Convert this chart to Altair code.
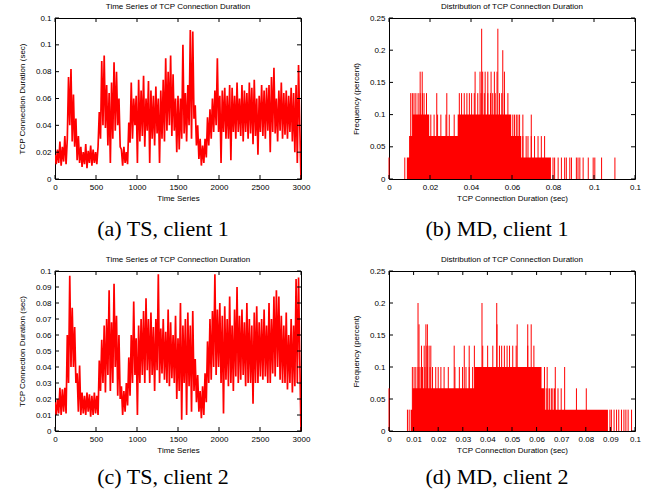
import altair as alt
import pandas as pd

FONT = "Liberation Sans"
SERIF = "Liberation Serif"
RED = "#ff0000"
W, H1, H2 = 246, 161, 160
N_CONN = 3000  # connections per client (frequency = count / N_CONN * 100 percent)

# ---------- time series, one reading every 15 connections ----------
TS_STEP = 15
ts_client1 = [
    0.018, 0.011, 0.022, 0.012, 0.028, 0.010, 0.024, 0.013, 0.032, 0.011,
    0.030, 0.076, 0.040, 0.082, 0.028, 0.063, 0.024, 0.045, 0.014, 0.032,
    0.012, 0.024, 0.009, 0.020, 0.011, 0.026, 0.008, 0.021, 0.012, 0.025,
    0.010, 0.022, 0.012, 0.020, 0.011, 0.024, 0.050, 0.030, 0.088, 0.040,
    0.092, 0.038, 0.070, 0.025, 0.064, 0.012, 0.072, 0.030, 0.087, 0.036,
    0.080, 0.040, 0.060, 0.024, 0.022, 0.010, 0.024, 0.012, 0.020, 0.011,
    0.042, 0.027, 0.072, 0.030, 0.060, 0.040, 0.062, 0.012, 0.074, 0.028,
    0.066, 0.032, 0.077, 0.024, 0.060, 0.036, 0.073, 0.012, 0.066, 0.030,
    0.062, 0.025, 0.069, 0.034, 0.060, 0.012, 0.066, 0.030, 0.074, 0.028,
    0.090, 0.036, 0.080, 0.040, 0.092, 0.032, 0.078, 0.036, 0.060, 0.020,
    0.062, 0.022, 0.060, 0.030, 0.100, 0.034, 0.064, 0.028, 0.070, 0.040,
    0.111, 0.030, 0.110, 0.045, 0.055, 0.025, 0.040, 0.015, 0.030, 0.010,
    0.025, 0.012, 0.030, 0.016, 0.046, 0.025, 0.052, 0.030, 0.060, 0.035,
    0.066, 0.040, 0.090, 0.035, 0.062, 0.012, 0.066, 0.035, 0.068, 0.030,
    0.062, 0.030, 0.070, 0.014, 0.068, 0.035, 0.062, 0.030, 0.072, 0.035,
    0.060, 0.032, 0.070, 0.028, 0.066, 0.035, 0.064, 0.030, 0.072, 0.034,
    0.068, 0.026, 0.074, 0.032, 0.060, 0.018, 0.062, 0.035, 0.070, 0.032,
    0.066, 0.030, 0.068, 0.036, 0.070, 0.020, 0.076, 0.035, 0.083, 0.034,
    0.060, 0.028, 0.066, 0.036, 0.072, 0.030, 0.064, 0.033, 0.066, 0.030,
    0.062, 0.035, 0.068, 0.028, 0.064, 0.020, 0.070, 0.012, 0.085, 0.040,
    0.000,
]
ts_client2 = [
    0.018, 0.010, 0.020, 0.011, 0.027, 0.010, 0.026, 0.012, 0.027, 0.011,
    0.060, 0.030, 0.097, 0.040, 0.077, 0.040, 0.065, 0.030, 0.036, 0.012,
    0.041, 0.010, 0.024, 0.011, 0.022, 0.010, 0.024, 0.012, 0.023, 0.009,
    0.022, 0.010, 0.024, 0.011, 0.022, 0.010, 0.044, 0.025, 0.057, 0.030,
    0.066, 0.024, 0.070, 0.035, 0.088, 0.025, 0.068, 0.030, 0.092, 0.040,
    0.072, 0.022, 0.060, 0.020, 0.028, 0.010, 0.025, 0.012, 0.030, 0.016,
    0.046, 0.022, 0.060, 0.030, 0.081, 0.035, 0.058, 0.010, 0.066, 0.030,
    0.070, 0.035, 0.075, 0.030, 0.083, 0.038, 0.070, 0.030, 0.074, 0.035,
    0.065, 0.025, 0.070, 0.038, 0.098, 0.030, 0.064, 0.036, 0.070, 0.032,
    0.062, 0.030, 0.076, 0.028, 0.068, 0.033, 0.060, 0.030, 0.072, 0.020,
    0.058, 0.025, 0.080, 0.007, 0.066, 0.030, 0.070, 0.010, 0.074, 0.028,
    0.066, 0.012, 0.075, 0.025, 0.045, 0.018, 0.035, 0.012, 0.025, 0.008,
    0.028, 0.010, 0.036, 0.018, 0.056, 0.030, 0.070, 0.032, 0.075, 0.040,
    0.098, 0.035, 0.076, 0.040, 0.080, 0.030, 0.072, 0.011, 0.078, 0.032,
    0.070, 0.028, 0.084, 0.030, 0.066, 0.025, 0.076, 0.034, 0.090, 0.030,
    0.072, 0.032, 0.076, 0.035, 0.068, 0.028, 0.080, 0.030, 0.070, 0.030,
    0.066, 0.017, 0.074, 0.030, 0.078, 0.030, 0.068, 0.034, 0.070, 0.032,
    0.076, 0.034, 0.066, 0.030, 0.080, 0.030, 0.070, 0.036, 0.084, 0.034,
    0.088, 0.040, 0.084, 0.032, 0.072, 0.030, 0.066, 0.030, 0.074, 0.026,
    0.060, 0.030, 0.070, 0.024, 0.066, 0.028, 0.095, 0.030, 0.096, 0.045,
    0.000,
]

# ---------- histograms: solid runs (start, end, count) and single spikes ----------
md1_run_start = [0.0087, 0.0098, 0.0114, 0.0335]
md1_run_end = [0.0790, 0.0645, 0.0196, 0.0596]
md1_run_count = [1, 2, 3, 3]
md1_n1 = [0.0, 0.0077, 0.0800, 0.0808, 0.0825, 0.0841, 0.0857, 0.0865, 0.0882, 0.0890,
          0.0914, 0.0922, 0.0931, 0.0947, 0.0972, 0.0996, 0.1004, 0.1037, 0.1102]
md1_n2 = [0.0653, 0.0669, 0.0678, 0.0694, 0.0710, 0.0727, 0.0743, 0.0759]
md1_n3 = [0.0204, 0.0220, 0.0237, 0.0253, 0.0278, 0.0294, 0.0318, 0.0604, 0.0612,
          0.0621, 0.0629, 0.0637, 0.0653, 0.0694]
md1_n4 = [0.0106, 0.0114, 0.0122, 0.0131, 0.0142, 0.0152, 0.0163, 0.0171, 0.0183,
          0.0233, 0.0282, 0.0343, 0.0354, 0.0367, 0.0380, 0.0392, 0.0403, 0.0416,
          0.0433, 0.0449, 0.0465, 0.0482, 0.0495, 0.0506, 0.0518, 0.0539, 0.0550,
          0.0563, 0.0580]
md1_n5 = [0.0152, 0.0162, 0.0420, 0.0444, 0.0457, 0.0469, 0.0482, 0.0498, 0.0514,
          0.0527, 0.0563]
md1_n6 = [0.0555]
md1_n7 = [0.0452, 0.0531]

md2_run_start = [0.0088, 0.0095, 0.0347]
md2_run_end = [0.0890, 0.0630, 0.0620]
md2_run_count = [1, 2, 3]
md2_n1 = [0.0075, 0.0082, 0.0898, 0.0904, 0.0915, 0.0925, 0.0934, 0.0945, 0.0955,
          0.0963, 0.0972, 0.0986]
md2_n2 = [0.0, 0.0639, 0.0646, 0.0653, 0.0660, 0.0666, 0.0673, 0.0687, 0.0700,
          0.0762, 0.0802]
md2_n3 = [0.0095, 0.0102, 0.0109, 0.0118, 0.0126, 0.0136, 0.0146, 0.0156, 0.0167,
          0.0177, 0.0190, 0.0200, 0.0211, 0.0224, 0.0241, 0.0268, 0.0286, 0.0299,
          0.0313, 0.0326, 0.0340, 0.0632, 0.0643, 0.0676, 0.0714]
md2_n4 = [0.0132, 0.0143, 0.0154, 0.0163, 0.0170, 0.0265, 0.0306, 0.0326, 0.0347,
          0.0381, 0.0401, 0.0422, 0.0449, 0.0458, 0.0469, 0.0480, 0.0490, 0.0503,
          0.0517, 0.0564, 0.0589]
md2_n5 = [0.0122, 0.0150, 0.0156, 0.0439, 0.0521, 0.0564, 0.0578]
md2_n6 = [0.0118, 0.0378, 0.0438]

# ---------- tick labels ----------
ts_x_ticks = [0, 500, 1000, 1500, 2000, 2500, 3000]
ts1_y_ticks = [0, 0.02, 0.04, 0.06, 0.08, 0.1, 0.12]
ts2_y_ticks = [0, 0.01, 0.02, 0.03, 0.04, 0.05, 0.06, 0.07, 0.08, 0.09, 0.1]
md1_x_ticks = [0, 0.02, 0.04, 0.06, 0.08, 0.1, 0.12]
md2_x_ticks = [0, 0.01, 0.02, 0.03, 0.04, 0.05, 0.06, 0.07, 0.08, 0.09, 0.1]
md_y_ticks = [0, 0.05, 0.1, 0.15, 0.2, 0.25]

titles = ["Time Series of TCP Connection Duration", "Distribution of TCP Connection Duration"]
captions = ["(a) TS, client 1", "(b) MD, client 1", "(c) TS, client 2", "(d) MD, client 2"]


def enc(xdom, ydom, xticks, yticks, xtitle, ytitle):
    X = lambda f="x": alt.X(f"{f}:Q", scale=alt.Scale(domain=xdom, nice=False, zero=False),
                            axis=alt.Axis(values=xticks, format="~r", title=xtitle))
    Y = lambda f="y": alt.Y(f"{f}:Q", scale=alt.Scale(domain=ydom, nice=False, zero=False),
                            axis=alt.Axis(values=yticks, format="~r", title=ytitle))
    return X, Y


def tick_layers(X, Y, xticks, yticks, h):
    dx = pd.DataFrame({"x": xticks})
    dy = pd.DataFrame({"y": yticks})
    L = 4
    return [
        alt.Chart(dy).mark_rule(color="black", strokeWidth=1).encode(y=Y(), x=alt.value(0), x2=alt.value(L)),
        alt.Chart(dy).mark_rule(color="black", strokeWidth=1).encode(y=Y(), x=alt.value(W - L), x2=alt.value(W)),
        alt.Chart(dx).mark_rule(color="black", strokeWidth=1).encode(x=X(), y=alt.value(h - L), y2=alt.value(h)),
        alt.Chart(dx).mark_rule(color="black", strokeWidth=1).encode(x=X(), y=alt.value(0), y2=alt.value(L)),
    ]


def caption_layer(text, h, dy):
    return alt.Chart(pd.DataFrame({"c": [text]})).mark_text(
        font=SERIF, fontSize=22, color="black", align="center", baseline="middle"
    ).encode(text="c:N", x=alt.value(108), y=alt.value(h + dy))


def ts_panel(values, yticks, ydom, h, cap, capdy):
    X, Y = enc([0, 3000], ydom, ts_x_ticks, yticks, "Time Series", "TCP Connection Duration (sec)")
    df = pd.DataFrame({"x": [i * TS_STEP for i in range(len(values))], "y": values})
    line = alt.Chart(df).mark_line(color=RED, strokeWidth=1.7, clip=True).encode(x=X(), y=Y())
    return alt.layer(line, *tick_layers(X, Y, ts_x_ticks, yticks, h), caption_layer(cap, h, capdy)).properties(
        width=W, height=h, title=titles[0])


def md_panel(rs, re, rc, levels, xticks, xdom, h, cap, capdy):
    X, Y = enc(xdom, [0, 0.25], xticks, md_y_ticks, "TCP Connection Duration (sec)", "Frequency (percent)")
    runs = pd.DataFrame({"x": rs, "x2": re, "y": [c * 100 / N_CONN for c in rc]})
    rows = []
    for k, xs in enumerate(levels, start=1):
        for v in xs:
            rows.append({"x": v, "y": k * 100 / N_CONN})
    spikes = pd.DataFrame(rows)
    rect = alt.Chart(runs).mark_rect(color=RED).encode(x=X(), x2="x2:Q", y=Y(), y2=alt.datum(0))
    rule = alt.Chart(spikes).mark_rule(color=RED, strokeWidth=1).encode(x=X(), y=Y(), y2=alt.datum(0))
    return alt.layer(rect, rule, *tick_layers(X, Y, xticks, md_y_ticks, h), caption_layer(cap, h, capdy)).properties(
        width=W, height=h, title=titles[1])


pa = ts_panel(ts_client1, ts1_y_ticks, [0, 0.12], H1, captions[0], 50)
pb = md_panel(md1_run_start, md1_run_end, md1_run_count,
              [md1_n1, md1_n2, md1_n3, md1_n4, md1_n5, md1_n6, md1_n7],
              md1_x_ticks, [0, 0.12], H1, captions[1], 50)
pc = ts_panel(ts_client2, ts2_y_ticks, [0, 0.1], H2, captions[2], 46)
pd_ = md_panel(md2_run_start, md2_run_end, md2_run_count,
               [md2_n1, md2_n2, md2_n3, md2_n4, md2_n5, md2_n6],
               md2_x_ticks, [0, 0.1], H2, captions[3], 46)

chart = alt.concat(pa, pb, pc, pd_, columns=2, spacing={"row": 92, "column": 88}, bounds="flush").properties(
    padding={"left": 17, "top": 2, "right": 0, "bottom": 0}
).configure_axis(
    labelFont=FONT, labelFontSize=8, labelColor="black", titleFont=FONT, titleFontSize=8,
    titleFontWeight="normal", titleColor="black", domain=False, ticks=False, grid=False,
    labelPadding=4, labelFlush=False, labelOverlap=False
).configure_axisY(titlePadding=9).configure_axisX(titlePadding=3).configure_view(
    stroke="black", strokeWidth=1
).configure_title(font=FONT, fontSize=8, fontWeight="normal", color="black", offset=3, anchor="middle")

chart.save("out.html", embed_options={"renderer": "svg", "actions": False})
